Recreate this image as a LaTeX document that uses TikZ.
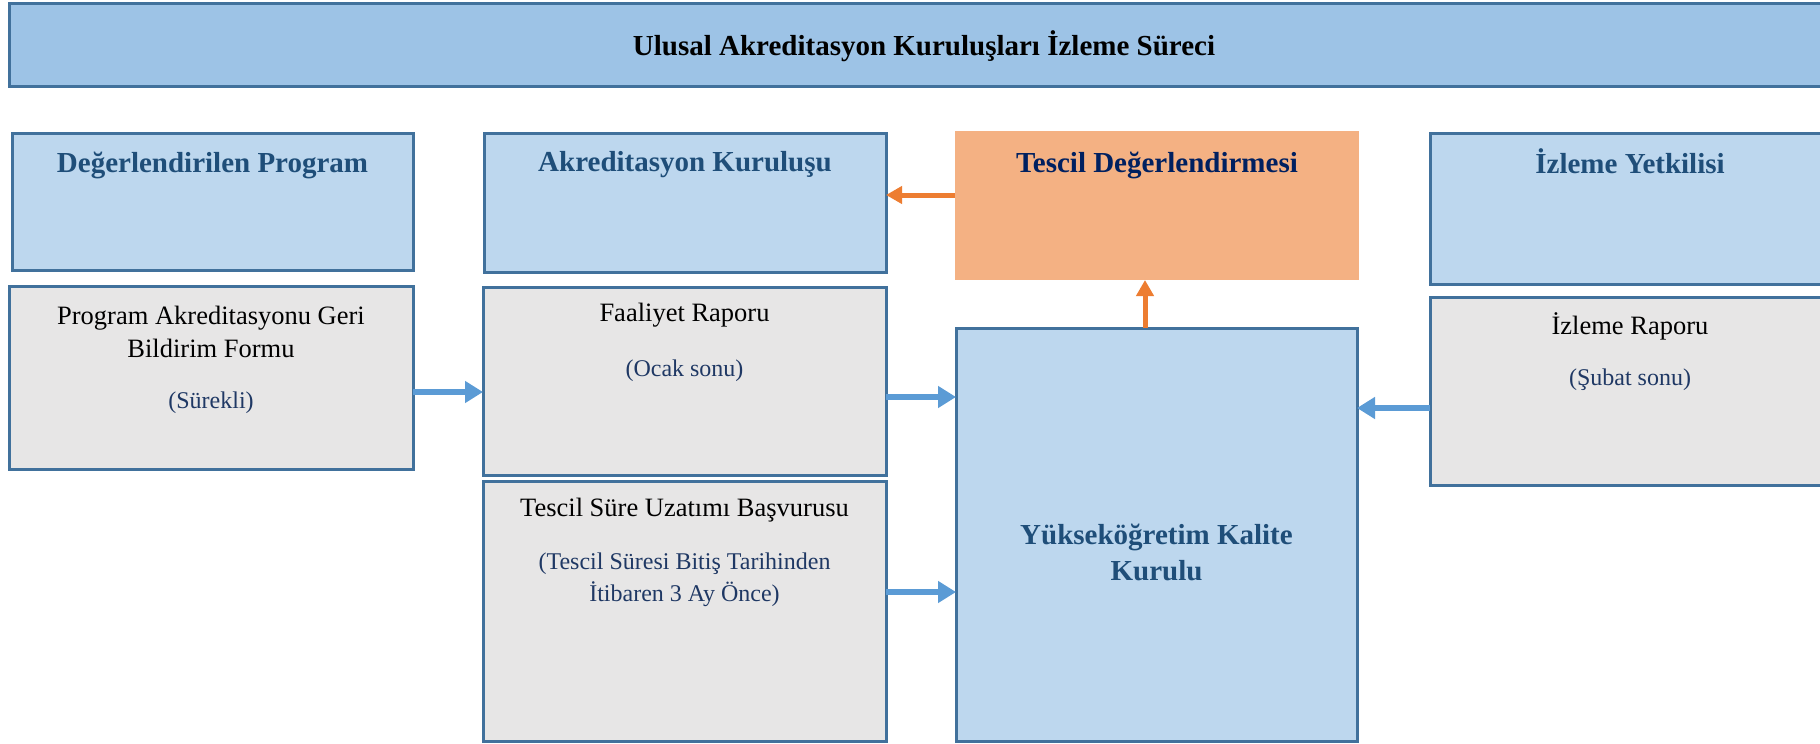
\documentclass[tikz,border=0pt]{standalone}
\usepackage{fontspec}
\setmainfont{Liberation Serif}
\usetikzlibrary{arrows.meta}
\definecolor{bannerfill}{HTML}{9DC3E6}
\definecolor{hdrfill}{HTML}{BDD7EE}
\definecolor{grayfill}{HTML}{E7E6E6}
\definecolor{boxline}{HTML}{41719C}
\definecolor{orangefill}{HTML}{F4B183}
\definecolor{hdrtext}{HTML}{1F4E79}
\definecolor{navytext}{HTML}{002060}
\definecolor{subtext}{HTML}{1F3864}
\definecolor{bluearrow}{HTML}{5B9BD5}
\definecolor{orangearrow}{HTML}{ED7D31}
\tikzset{
  box/.style={draw=boxline, line width=3pt, inner sep=0pt, outer sep=0pt},
  hdrbox/.style={box, fill=hdrfill},
  graybox/.style={box, fill=grayfill},
  headtxt/.style={text=hdrtext, font=\fontsize{29}{36}\selectfont\bfseries, align=center, inner sep=0pt},
  bodytxt/.style={text=black, font=\fontsize{26.5}{33}\selectfont, align=center, inner sep=0pt},
  subtxt/.style={text=subtext, font=\fontsize{24}{32}\selectfont, align=center, inner sep=0pt},
  barrow/.style={draw=bluearrow, line width=6pt, -{Triangle[width=21pt,length=18pt]}},
  oarrow/.style={draw=orangearrow, line width=5pt, -{Triangle[width=17pt,length=16pt]}}
}
\begin{document}
\begin{tikzpicture}[x=1pt,y=-1pt]
\clip (0,0) rectangle (1820,744);
\fill[white] (0,0) rectangle (1820,744);
% banner
\node[box, fill=bannerfill, minimum width=1821pt, minimum height=83pt] (banner) at (919.5,44.5) {};
\node[text=black, font=\fontsize{29}{36}\selectfont\bfseries, inner sep=0pt] (title) at (924,46) {Ulusal Akreditasyon Kuruluşları İzleme Süreci};
% header row
\node[hdrbox, minimum width=401pt, minimum height=137pt] (h1) at (212.5,201.5) {};
\node[hdrbox, minimum width=402pt, minimum height=139pt] (h2) at (685,202.5) {};
\node[fill=orangefill, inner sep=0pt, outer sep=0pt, minimum width=404pt, minimum height=149pt] (tescil) at (1157,205.5) {};
\node[hdrbox, minimum width=400pt, minimum height=151pt] (h4) at (1630,208.5) {};
\node[headtxt] (h1t) at (212.5,165) {Değerlendirilen Program};
\node[headtxt] (h2t) at (685,165) {Akreditasyon Kuruluşu};
\node[headtxt, text=navytext] (tescilt) at (1157,165.5) {Tescil Değerlendirmesi};
\node[headtxt] (h4t) at (1630,161) {İzleme Yetkilisi};
% gray boxes
\node[graybox, minimum width=404pt, minimum height=183pt] (g1) at (211,377.5) {};
\node[graybox, minimum width=403pt, minimum height=188pt] (g2) at (684.5,381) {};
\node[graybox, minimum width=403pt, minimum height=260pt] (g3) at (684.5,611) {};
\node[graybox, minimum width=400pt, minimum height=188pt] (g4) at (1630,391) {};
\node[hdrbox, minimum width=401pt, minimum height=413pt] (yok) at (1156.5,534.5) {};
% texts
\node[bodytxt] (g1t) at (211,332) {Program Akreditasyonu Geri\\Bildirim Formu};
\node[subtxt] (g1s) at (211,403) {(Sürekli)};
\node[bodytxt] (g2t) at (684.5,315.5) {Faaliyet Raporu};
\node[subtxt] (g2s) at (684.5,371) {(Ocak sonu)};
\node[bodytxt] (g3t) at (684.5,510.5) {Tescil Süre Uzatımı Başvurusu};
\node[subtxt] (g3s) at (684.5,580) {(Tescil Süresi Bitiş Tarihinden\\İtibaren 3 Ay Önce)};
\node[bodytxt] (g4t) at (1630,326) {İzleme Raporu};
\node[subtxt] (g4s) at (1630,379.5) {(Şubat sonu)};
\node[headtxt] (yokt) at (1156.5,552.5) {Yükseköğretim Kalite\\Kurulu};
% arrows
\draw[barrow] (g1.east |- 0,392) -- (g2.west |- 0,392);
\draw[barrow] (g2.east |- 0,397) -- (yok.west |- 0,397);
\draw[barrow] (g3.east |- 0,592) -- (yok.west |- 0,592);
\draw[barrow] (g4.west |- 0,408) -- (yok.east |- 0,408);
\draw[oarrow] (yok.north -| 1145,0) -- (tescil.south -| 1145,0);
\draw[oarrow] (tescil.west |- 0,195) -- (h2.east |- 0,195);
\end{tikzpicture}
\end{document}
